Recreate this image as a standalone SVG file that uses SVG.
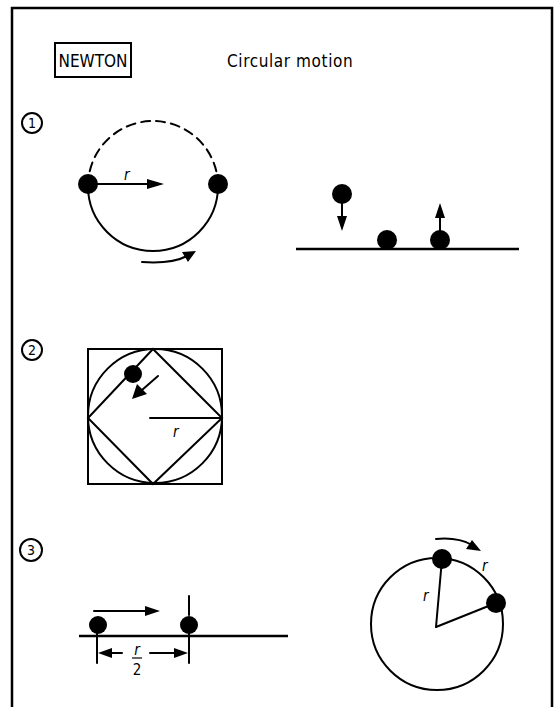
<svg xmlns="http://www.w3.org/2000/svg" width="558" height="707" viewBox="0 0 558 707">
<style>
.ln{fill:none;stroke:#000;stroke-width:2;stroke-linecap:round}
.thk{fill:none;stroke:#000;stroke-width:2.5}
.dot{fill:#000}
.hd{fill:#000;stroke:none}
.t{font-family:"DejaVu Sans Condensed","DejaVu Sans",sans-serif;font-stretch:condensed;fill:#000}
.r{font-family:"DejaVu Sans Condensed","DejaVu Sans",sans-serif;font-style:italic;font-size:15px;fill:#000}
.num{font-family:"DejaVu Sans Condensed","DejaVu Sans",sans-serif;font-size:14px;text-anchor:middle;fill:#000}
</style>
<rect width="558" height="707" fill="#fff"/>
<rect x="12" y="8" width="540" height="730" class="thk"/>
<g id="title">
<rect x="55" y="43" width="76" height="34" class="ln"/>
<text x="93" y="67" class="t" font-size="17" text-anchor="middle">NEWTON</text>
<text x="227" y="67" class="t" font-size="17" letter-spacing="0.6">Circular motion</text>
</g>
<g id="sec1">
<circle cx="32" cy="123" r="10" class="ln"/>
<text x="32" y="128" class="num">1</text>
<path d="M88,186 A65,65 0 0 1 218,186" class="ln" stroke-dasharray="9,6"/>
<path d="M88,186 A65,65 0 0 0 218,186" class="ln"/>
<circle cx="88" cy="184" r="10" class="dot"/>
<circle cx="218" cy="184" r="10" class="dot"/>
<line x1="88" y1="184" x2="152" y2="184" class="ln"/>
<polygon points="164,184 147,179 147,189" class="hd"/>
<text x="124" y="180" class="r">r</text>
<path d="M142,262 Q172,264 187,256" class="ln"/>
<polygon points="196,251 182,252 188,262" class="hd"/>
<line x1="296" y1="249" x2="519" y2="249" class="thk"/>
<circle cx="342" cy="194" r="10" class="dot"/>
<line x1="342" y1="194" x2="342" y2="220" class="ln"/>
<polygon points="342,231 337,216 347,216" class="hd"/>
<circle cx="387" cy="240" r="10" class="dot"/>
<circle cx="440" cy="240" r="10" class="dot"/>
<line x1="440" y1="240" x2="440" y2="214" class="ln"/>
<polygon points="440,203 435,218 445,218" class="hd"/>
</g>
<g id="sec2">
<circle cx="32" cy="350" r="10" class="ln"/>
<text x="32" y="355" class="num">2</text>
<rect x="88" y="349" width="134" height="135" class="ln"/>
<circle cx="155" cy="416" r="67" class="ln"/>
<polygon points="153,349 222,418 153,484 88,418" class="ln"/>
<circle cx="133" cy="374" r="9" class="dot"/>
<line x1="158" y1="376" x2="142" y2="390" class="ln"/>
<polygon points="132,399 137,384 147,394" class="hd"/>
<line x1="150" y1="418" x2="222" y2="418" class="ln"/>
<text x="173" y="437" class="r">r</text>
</g>
<g id="sec3">
<circle cx="31" cy="550" r="11" class="ln"/>
<text x="31" y="555" class="num">3</text>
<line x1="79" y1="636" x2="288" y2="636" class="thk"/>
<circle cx="98" cy="625" r="9" class="dot"/>
<circle cx="189" cy="625" r="9" class="dot"/>
<line x1="94" y1="611" x2="148" y2="611" class="ln"/>
<polygon points="160,611 145,606 145,616" class="hd"/>
<line x1="189" y1="596" x2="189" y2="615" class="ln"/>
<line x1="97" y1="630" x2="97" y2="663" class="ln"/>
<line x1="189" y1="630" x2="189" y2="663" class="ln"/>
<line x1="108" y1="653" x2="122" y2="653" class="ln"/>
<polygon points="98,653 112,648 112,658" class="hd"/>
<line x1="150" y1="653" x2="176" y2="653" class="ln"/>
<polygon points="188,653 174,648 174,658" class="hd"/>
<text x="137" y="655" class="r" text-anchor="middle" font-size="14">r</text>
<line x1="132" y1="658" x2="142" y2="658" stroke="#000" stroke-width="1.2"/>
<text x="137" y="675" class="t" font-size="15" text-anchor="middle">2</text>
<circle cx="437" cy="624" r="66" class="ln"/>
<line x1="436" y1="627" x2="442" y2="559" class="ln"/>
<line x1="436" y1="627" x2="496" y2="603" class="ln"/>
<circle cx="442" cy="559" r="10" class="dot"/>
<circle cx="496" cy="603" r="10" class="dot"/>
<text x="423" y="601" class="r">r</text>
<text x="482" y="571" class="r">r</text>
<path d="M436,539 Q458,537 472,545" class="ln"/>
<polygon points="481,551 466,549 472,540" class="hd"/>
</g>
</svg>
